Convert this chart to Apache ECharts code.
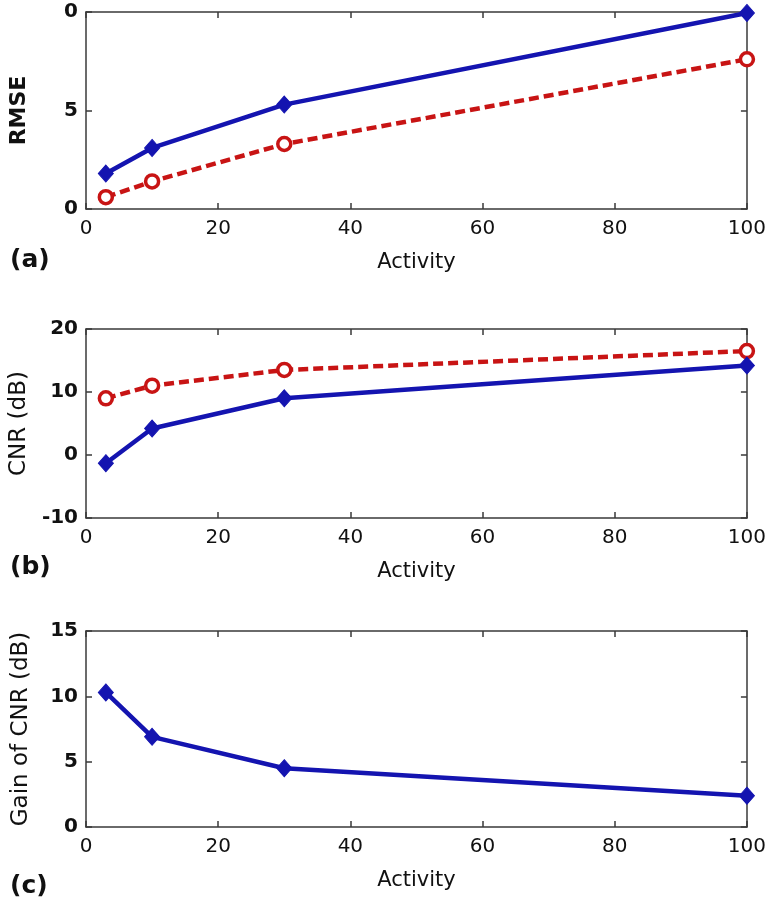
<!DOCTYPE html>
<html>
<head>
<meta charset="utf-8">
<script src="https://cdn.jsdelivr.net/npm/echarts@6/dist/echarts.min.js"></script>
<style>html,body{margin:0;padding:0;background:#fff;}#c{width:769px;height:904px;}</style>
</head>
<body>
<div id="c"></div>
<script>
// ---- data ----
const activity = [3, 10, 30, 100];
const rmseBlue = [1.8, 3.1, 5.3, 9.95];
const rmseRed = [0.6, 1.4, 3.3, 7.6];
const cnrBlue = [-1.3, 4.2, 9.0, 14.2];
const cnrRed = [9.0, 11.0, 13.5, 16.5];
const gainBlue = [10.3, 6.9, 4.5, 2.4];
const xTickValues = [0, 20, 40, 60, 80, 100];
const rmseTickLabels = ['0', '5', '0'];
const panelLabels = ['(a)', '(b)', '(c)'];
const yNames = ['RMSE', 'CNR (dB)', 'Gain of CNR (dB)'];
const xName = 'Activity';

const BLUE = '#1414b0';
const RED = '#c81414';
const FRAME = '#3a3a3a';
const FONT = '"DejaVu Sans", Verdana, sans-serif';

const grids = [
  {left: 86, right: 22, top: 12, height: 197},
  {left: 86, right: 22, top: 329, height: 189},
  {left: 86, right: 22, top: 631, height: 196}
];
const yRanges = [
  {min: 0, max: 10, interval: 5},
  {min: -10, max: 20, interval: 10},
  {min: 0, max: 15, interval: 5}
];

const xAxes = [], yAxes = [];
grids.forEach((g, i) => {
  const lineStyle = {color: FRAME, width: 1.5};
  xAxes.push({
    gridIndex: i, type: 'value', min: 0, max: 100, interval: 20, position: 'bottom',
    name: xName, nameLocation: 'middle', nameGap: 43,
    nameTextStyle: {fontFamily: FONT, fontSize: 21, color: '#111'},
    axisLine: {show: true, onZero: false, lineStyle},
    axisTick: {show: true, inside: true, length: 6, lineStyle},
    axisLabel: {fontFamily: FONT, fontSize: 20, color: '#111', margin: 10,
      formatter: v => (xTickValues.indexOf(v) >= 0 ? String(v) : '')},
    splitLine: {show: false}
  });
  xAxes.push({
    gridIndex: i, type: 'value', min: 0, max: 100, interval: 20, position: 'top',
    axisLine: {show: true, onZero: false, lineStyle},
    axisTick: {show: true, inside: true, length: 6, lineStyle},
    axisLabel: {show: false}, splitLine: {show: false}
  });
  const r = yRanges[i];
  yAxes.push({
    gridIndex: i, type: 'value', min: r.min, max: r.max, interval: r.interval, position: 'left',
    name: yNames[i], nameLocation: 'middle', nameGap: i === 0 ? 56 : 53, nameRotate: 90,
    nameTextStyle: {fontFamily: FONT, fontSize: i === 0 ? 22 : 23, fontWeight: i === 0 ? 'bold' : 'normal', color: '#111'},
    axisLine: {show: true, onZero: false, lineStyle},
    axisTick: {show: true, inside: true, length: 6, lineStyle},
    axisLabel: {fontFamily: FONT, fontSize: 20, fontWeight: 'bold', color: '#111', margin: 8,
      formatter: i === 0 ? (v => rmseTickLabels[Math.round(v / 5)]) : (v => String(v))},
    splitLine: {show: false}
  });
  yAxes.push({
    gridIndex: i, type: 'value', min: r.min, max: r.max, interval: r.interval, position: 'right',
    axisLine: {show: true, onZero: false, lineStyle},
    axisTick: {show: true, inside: true, length: 6, lineStyle},
    axisLabel: {show: false}, splitLine: {show: false}
  });
});

function blueSeries(vals, gi) {
  return {
    type: 'line', xAxisIndex: gi * 2, yAxisIndex: gi * 2,
    data: activity.map((x, k) => [x, vals[k]]),
    symbol: 'diamond', symbolSize: [15, 17],
    lineStyle: {color: BLUE, width: 4.5},
    itemStyle: {color: BLUE, borderColor: BLUE, borderWidth: 1},
    z: 3, silent: true, animation: false
  };
}
function redSeries(vals, gi) {
  return {
    type: 'line', xAxisIndex: gi * 2, yAxisIndex: gi * 2,
    data: activity.map((x, k) => [x, vals[k]]),
    symbol: 'circle', symbolSize: 13,
    lineStyle: {color: RED, width: 4.5, type: [10, 5]},
    itemStyle: {color: '#fff', borderColor: RED, borderWidth: 3.5},
    z: 2, silent: true, animation: false
  };
}

const labelTops = [248, 555, 874];
const option = {
  backgroundColor: '#fff',
  animation: false,
  title: panelLabels.map((t, i) => ({
    text: t, left: 10, top: labelTops[i], padding: 0,
    textStyle: {fontFamily: FONT, fontSize: 25, fontWeight: 'bold', color: '#111'}
  })),
  grid: grids.map(g => Object.assign({containLabel: false}, g)),
  xAxis: xAxes,
  yAxis: yAxes,
  series: [
    redSeries(rmseRed, 0), blueSeries(rmseBlue, 0),
    redSeries(cnrRed, 1), blueSeries(cnrBlue, 1),
    blueSeries(gainBlue, 2)
  ]
};
const chart = echarts.init(document.getElementById('c'), null, {renderer: 'canvas'});
chart.setOption(option);
</script>
</body>
</html>
